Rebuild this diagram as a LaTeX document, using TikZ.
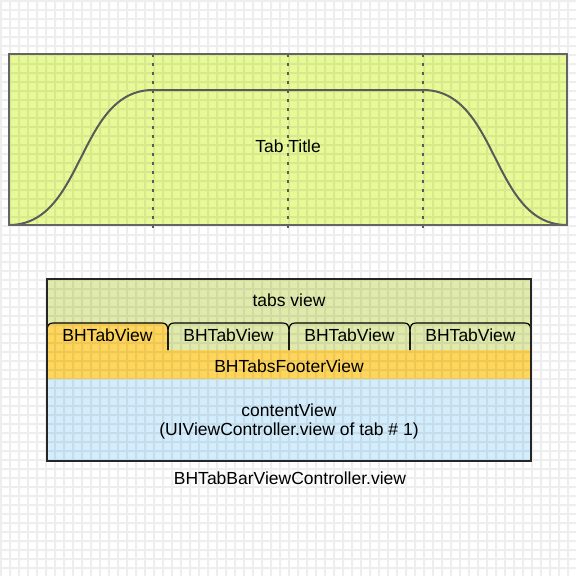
\documentclass[tikz,border=0pt]{standalone}
\usepackage{fontspec}
\setmainfont{Liberation Sans}
\definecolor{gridc}{RGB}{0,0,0}
\definecolor{topfill}{RGB}{232,250,152}
\definecolor{tabsfill}{RGB}{224,234,172}
\definecolor{footfill}{RGB}{255,214,92}
\definecolor{contfill}{RGB}{212,237,252}
\definecolor{edgegray}{RGB}{100,100,100}
\tikzset{
  lbl/.style={inner sep=0pt, font=\fontsize{17.5}{21}\selectfont, text=black},
  topedge/.style={draw=edgegray, line width=2pt},
  dotline/.style={draw=edgegray!90!black, line width=2pt, dash pattern=on 3pt off 6pt},
  curveline/.style={draw=edgegray!90!black, line width=2pt},
  tabline/.style={draw=black, line width=1.1pt},
  boxedge/.style={draw=black!85, line width=1.6pt}
}
\begin{document}
\begin{tikzpicture}[x=1pt,y=-1pt]
\useasboundingbox (0,0) rectangle (576,576);
\fill[white] (0,0) rectangle (576,576);
% fills
\fill[topfill] (9,54) rectangle (567,225);
\fill[tabsfill] (47,279) rectangle (531,350);
\fill[footfill] (47,350) rectangle (531,379);
\fill[contfill] (47,379) rectangle (531,461);
\fill[footfill] (47,350) -- (47,332) .. controls (47,326) and (50,323) .. (56,323) -- (162,323) .. controls (167,323) and (168,326) .. (168,333) -- (168,350) -- cycle;
% grid
\begin{scope}[transparency group, opacity=0.065]
\foreach \k in {0,...,64} {
  \draw[gridc, line width=2pt] (1+9*\k,0) -- (1+9*\k,576);
  \draw[gridc, line width=2pt] (0,1+9*\k) -- (576,1+9*\k);
}
\end{scope}
% top diagram
\draw[dotline] (153,54) -- (153,228);
\draw[dotline] (288,54) -- (288,228);
\draw[dotline] (423,54) -- (423,228);
\draw[curveline] (9,225) .. controls (85,225) and (77,90) .. (153,90) -- (423,90) .. controls (499,90) and (491,225) .. (567,225);
\draw[topedge] (9,54) rectangle (567,225);
\node[lbl] (title) at (288,146) {Tab Title};
% tabs
\foreach \i in {0,1,2,3} {
  \pgfmathsetmacro{\xl}{47+121*\i}
  \pgfmathsetmacro{\xr}{47+121*(\i+1)}
  \draw[tabline] (\xl,350) -- (\xl,333) .. controls (\xl,326) and (\xl+1,323) .. (\xl+6,323) -- (\xr-6,323) .. controls (\xr-1,323) and (\xr,326) .. (\xr,333) -- (\xr,350);
}
\draw[boxedge] (47,279) rectangle (531,461);
\node[lbl] (tabsview) at (289,300) {tabs view};
\node[lbl] (tab1) at (107.5,335) {BHTabView};
\node[lbl] (tab2) at (228.5,335) {BHTabView};
\node[lbl] (tab3) at (349.5,335) {BHTabView};
\node[lbl] (tab4) at (470.5,335) {BHTabView};
\node[lbl] (footer) at (289,366) {BHTabsFooterView};
\node[lbl] (content) at (289,410) {contentView};
\node[lbl] (contentsub) at (289,431) {(UIViewController.view of tab \# 1)};
\node[lbl] (caption) at (290,478) {BHTabBarViewController.view};
\end{tikzpicture}
\end{document}
